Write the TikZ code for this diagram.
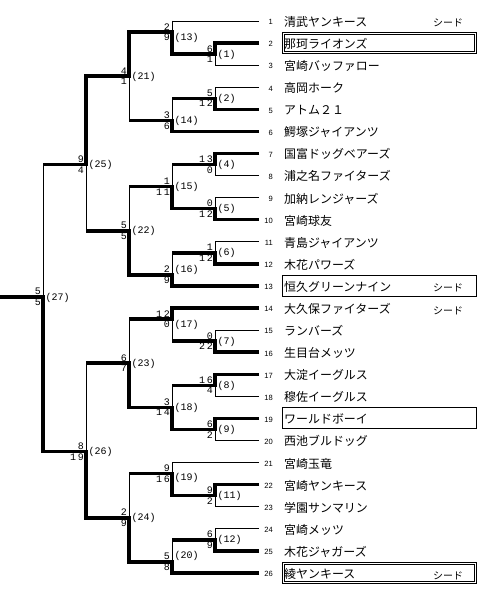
\documentclass[tikz,border=0pt]{standalone}
\usepackage{fontspec}
\setmainfont{Liberation Sans}
\newfontfamily\jpf{Noto Sans CJK JP}
\newfontfamily\monof{Liberation Mono}
\newcommand\lnk[4]{\draw[#3] (#1) -- (#1 -| #2); \draw[#4] (#1 -| #2) -- (#2);}
\newcommand\scr[3]{\node[sc,anchor=south east] (#1a) at ([xshift=-2bp,yshift=1.8bp]#1) {#2};
  \node[sc,anchor=north east] (#1b) at ([xshift=-2bp,yshift=-1.8bp]#1) {#3};}
\newcommand\tw[2]{#1\hspace{1.6bp}#2}
\begin{document}
\begin{tikzpicture}[x=1bp,y=-1bp,
  declare function={R(\r)=21+(\r-1)*22.08;},
  hw/.style={line width=3.5bp},
  hl/.style={line width=0.9bp},
  vw/.style={line width=3.5bp,line cap=rect},
  vl/.style={line width=0.9bp,line cap=rect},
  sc/.style={font=\monof\fontsize{10}{10}\selectfont,inner sep=0pt},
  ml/.style={font=\monof\fontsize{10}{10}\selectfont,inner sep=0pt,anchor=west},
  num/.style={font=\fontsize{7.6}{8}\selectfont,inner sep=0pt,anchor=base east},
  nm/.style={font=\jpf\fontsize{12}{14}\selectfont,inner sep=0pt,anchor=base west},
  sd/.style={font=\jpf\fontsize{10}{12}\selectfont,inner sep=0pt,anchor=base west},
  bx/.style={line width=0.9bp}]
\useasboundingbox (0,0) rectangle (500,595);
% team line ends
\foreach \i in {1,...,26} {\coordinate (t\i) at (259,{R(\i)});}
% match points
\coordinate (m1) at (215,{R(2.5)});
\coordinate (m2) at (215,{R(4.5)});
\coordinate (m4) at (215,{R(7.5)});
\coordinate (m5) at (215,{R(9.5)});
\coordinate (m6) at (215,{R(11.5)});
\coordinate (m7) at (215,{R(15.5)});
\coordinate (m8) at (215,{R(17.5)});
\coordinate (m9) at (215,{R(19.5)});
\coordinate (m11) at (215,{R(22.5)});
\coordinate (m12) at (215,{R(24.5)});
\coordinate (m13) at (172,{R(1.5)});
\coordinate (m14) at (172,{R(5.5)});
\coordinate (m15) at (172,{R(8.5)});
\coordinate (m16) at (172,{R(12.5)});
\coordinate (m17) at (172,{R(14.5)});
\coordinate (m18) at (172,{R(18.5)});
\coordinate (m19) at (172,{R(21.5)});
\coordinate (m20) at (172,{R(25.5)});
\coordinate (m21) at (129,{R(3.5)});
\coordinate (m22) at (129,{R(10.5)});
\coordinate (m23) at (129,{R(16.5)});
\coordinate (m24) at (129,{R(23.5)});
\coordinate (m25) at (86,{R(7.5)});
\coordinate (m26) at (86,{R(20.5)});
\coordinate (m27) at (43,{R(13.5)});
\coordinate (champ) at (0,{R(13.5)});
% connectors: losers (thin) first
\lnk{t3}{m1}{hl}{vl}
\lnk{t4}{m2}{hl}{vl}
\lnk{t8}{m4}{hl}{vl}
\lnk{t9}{m5}{hl}{vl}
\lnk{t11}{m6}{hl}{vl}
\lnk{t15}{m7}{hl}{vl}
\lnk{t18}{m8}{hl}{vl}
\lnk{t20}{m9}{hl}{vl}
\lnk{t23}{m11}{hl}{vl}
\lnk{t24}{m12}{hl}{vl}
\lnk{t1}{m13}{hl}{vl}
\lnk{m2}{m14}{hw}{vl}
\lnk{m4}{m15}{hw}{vl}
\lnk{m6}{m16}{hw}{vl}
\lnk{m7}{m17}{hw}{vl}
\lnk{m8}{m18}{hw}{vl}
\lnk{t21}{m19}{hl}{vl}
\lnk{m12}{m20}{hw}{vl}
\lnk{m14}{m21}{hw}{vl}
\lnk{m15}{m22}{hw}{vl}
\lnk{m17}{m23}{hw}{vl}
\lnk{m19}{m24}{hw}{vl}
\lnk{m22}{m25}{hw}{vl}
\lnk{m23}{m26}{hw}{vl}
\lnk{m25}{m27}{hw}{vl}
% winners (bold)
\lnk{t2}{m1}{hw}{vw}
\lnk{t5}{m2}{hw}{vw}
\lnk{t7}{m4}{hw}{vw}
\lnk{t10}{m5}{hw}{vw}
\lnk{t12}{m6}{hw}{vw}
\lnk{t16}{m7}{hw}{vw}
\lnk{t17}{m8}{hw}{vw}
\lnk{t19}{m9}{hw}{vw}
\lnk{t22}{m11}{hw}{vw}
\lnk{t25}{m12}{hw}{vw}
\lnk{m1}{m13}{hw}{vw}
\lnk{t6}{m14}{hw}{vw}
\lnk{m5}{m15}{hw}{vw}
\lnk{t13}{m16}{hw}{vw}
\lnk{t14}{m17}{hw}{vw}
\lnk{m9}{m18}{hw}{vw}
\lnk{m11}{m19}{hw}{vw}
\lnk{t26}{m20}{hw}{vw}
\lnk{m13}{m21}{hw}{vw}
\lnk{m16}{m22}{hw}{vw}
\lnk{m18}{m23}{hw}{vw}
\lnk{m20}{m24}{hw}{vw}
\lnk{m21}{m25}{hw}{vw}
\lnk{m24}{m26}{hw}{vw}
\lnk{m26}{m27}{hw}{vw}
\draw[hw] (m27) -- (champ);
% scores
\scr{m1}{6}{1}
\scr{m2}{5}{\tw12}
\scr{m4}{\tw13}{0}
\scr{m5}{0}{\tw12}
\scr{m6}{1}{\tw12}
\scr{m7}{0}{\tw22}
\scr{m8}{\tw16}{4}
\scr{m9}{6}{2}
\scr{m11}{9}{2}
\scr{m12}{6}{9}
\scr{m13}{2}{9}
\scr{m14}{3}{6}
\scr{m15}{1}{\tw11}
\scr{m16}{2}{9}
\scr{m17}{\tw12}{0}
\scr{m18}{3}{\tw14}
\scr{m19}{9}{\tw16}
\scr{m20}{5}{8}
\scr{m21}{4}{1}
\scr{m22}{5}{5}
\scr{m23}{6}{7}
\scr{m24}{2}{9}
\scr{m25}{9}{4}
\scr{m26}{8}{\tw19}
\scr{m27}{5}{5}
% match labels
\foreach \m in {1,2,4,5,6,7,8,9,11,12,14,15,18,21,22,23,24,25,26,27}
  {\node[ml] (l\m) at ([xshift=2.5bp,yshift=-0.5bp]m\m) {(\m)};}
\node[ml] (l13) at ([xshift=2.5bp,yshift=-5.5bp]m13) {(13)};
\node[ml] (l16) at ([xshift=2.5bp,yshift=4.5bp]m16) {(16)};
\node[ml] (l17) at ([xshift=2.5bp,yshift=-6bp]m17) {(17)};
\node[ml] (l19) at ([xshift=2.5bp,yshift=-4.5bp]m19) {(19)};
\node[ml] (l20) at ([xshift=2.5bp,yshift=6bp]m20) {(20)};
% team numbers and names
\foreach \i/\n in {1/清武ヤンキース,2/那珂ライオンズ,3/宮崎バッファロー,4/高岡ホーク,
  5/アトム２１,6/鰐塚ジャイアンツ,7/国富ドッグベアーズ,8/浦之名ファイターズ,
  9/加納レンジャーズ,10/宮崎球友,11/青島ジャイアンツ,12/木花パワーズ,
  13/恒久グリーンナイン,14/大久保ファイターズ,15/ランバーズ,16/生目台メッツ,
  17/大淀イーグルス,18/穆佐イーグルス,19/ワールドボーイ,20/西池ブルドッグ,
  21/宮崎玉竜,22/宮崎ヤンキース,23/学園サンマリン,24/宮崎メッツ,
  25/木花ジャガーズ,26/綾ヤンキース}
{\node[num] (n\i) at ([xshift=14bp,yshift=-3.8bp]t\i) {\i};
 \node[nm] (a\i) at ([xshift=25bp,yshift=-5.4bp]t\i) {\n};}
% seeds
\foreach \i in {1,13,14,26}
  {\node[sd] (d\i) at ([xshift=174bp,yshift=-6bp]t\i) {シード};}
% boxes
\foreach \i in {2,13,19,26}
  {\draw[bx] ([xshift=23bp,yshift=10.5bp]t\i) rectangle ([xshift=217bp,yshift=-10bp]t\i);}
\foreach \i in {2,26}
  {\draw[bx] ([xshift=25bp,yshift=8.5bp]t\i) rectangle ([xshift=215bp,yshift=-8bp]t\i);}
\end{tikzpicture}
\end{document}
